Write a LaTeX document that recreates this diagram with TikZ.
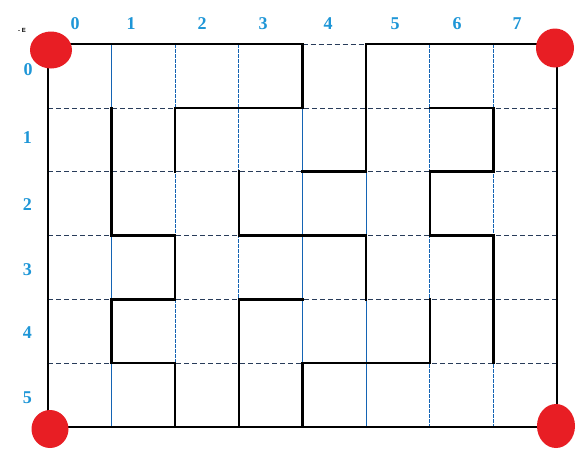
\documentclass[tikz,border=0pt]{standalone}
\usepackage{fontspec}
\setmainfont{Liberation Serif}
\setsansfont{Liberation Sans}
\definecolor{lbl}{RGB}{30,150,215}
\definecolor{gridh}{RGB}{40,60,90}
\definecolor{gridv}{RGB}{20,100,180}
\definecolor{dotred}{RGB}{232,30,36}
\begin{document}
\begin{tikzpicture}[x=1pt,y=-1pt,
  hgrid/.style={draw=gridh,line width=0.6pt,dash pattern=on 5pt off 3pt},
  vgrid/.style={draw=gridv,line width=0.7pt},
  vgriddash/.style={draw=gridv,line width=0.8pt,dash pattern=on 4pt off 1pt},
  wall/.style={draw=black,line width=2.4pt,line cap=rect,line join=miter},
  lab/.style={text=lbl,font=\fontsize{18}{18}\selectfont\bfseries,inner sep=0pt},
  corner/.style={fill=dotred}]
\useasboundingbox (0,0) rectangle (579,456);
\fill[white] (0,0) rectangle (579,456);
% grid coordinates
\foreach \i in {0,...,8}{
  \foreach \j in {0,...,6}{
    \coordinate (p\i-\j) at ({48+63.625*\i},{44+63.83*\j});
  }
}
% horizontal grid lines
\foreach \j in {1,...,5}{
  \draw[hgrid] (p0-\j) -- (p8-\j);
}
\draw[hgrid] (p4-0) -- (p5-0);
% vertical grid lines
\foreach \i in {1,4,5}{
  \draw[vgrid] (p\i-0) -- (p\i-6);
}
\foreach \i in {2,3,6,7}{
  \draw[vgriddash] (p\i-0) -- (p\i-6);
}
% walls
\draw[wall] (p4-0) -- (p0-0) -- (p0-6) -- (p8-6) -- (p8-0) -- (p5-0);
\draw[wall] (p5-0) -- (p5-2) -- (p4-2);
\draw[wall] (p5-3) -- (p5-4);
\draw[wall] (p4-0) -- (p4-1) -- (p2-1) -- (p2-2);
\draw[wall] (p1-1) -- (p1-3) -- (p2-3) -- (p2-4) -- (p1-4) -- (p1-5) -- (p2-5) -- (p2-6);
\draw[wall] (p3-2) -- (p3-3) -- (p5-3);
\draw[wall] (p3-6) -- (p3-4) -- (p4-4);
\draw[wall] (p4-6) -- (p4-5) -- (p6-5) -- (p6-4);
\draw[wall] (p6-1) -- (p7-1) -- (p7-2) -- (p6-2) -- (p6-3) -- (p7-3) -- (p7-5);
% corner dots
\fill[corner] (51,50) ellipse [x radius=21, y radius=18.5];
\fill[corner] (555,48) ellipse [x radius=19, y radius=19.5];
\fill[corner] (50,429) ellipse [x radius=18.5, y radius=19];
\fill[corner] (556,426) ellipse [x radius=19, y radius=22];
% column labels
\node[lab] (c0) at (75,23.5) {0};
\node[lab] (c1) at (131,23.5) {1};
\node[lab] (c2) at (202,23.5) {2};
\node[lab] (c3) at (263,23.5) {3};
\node[lab] (c4) at (328,23.5) {4};
\node[lab] (c5) at (395,23.5) {5};
\node[lab] (c6) at (457,23.5) {6};
\node[lab] (c7) at (517,23.5) {7};
% row labels
\node[lab] (r0) at (28,70) {0};
\node[lab] (r1) at (27.5,138) {1};
\node[lab] (r2) at (27.5,205) {2};
\node[lab] (r3) at (27.5,270) {3};
\node[lab] (r4) at (27.5,333) {4};
\node[lab] (r5) at (27.5,398) {5};
% tiny mark
\node[font=\sffamily\fontsize{6}{6}\selectfont\bfseries,inner sep=0pt] (mk) at (22,30.5) {- E};
\end{tikzpicture}
\end{document}
